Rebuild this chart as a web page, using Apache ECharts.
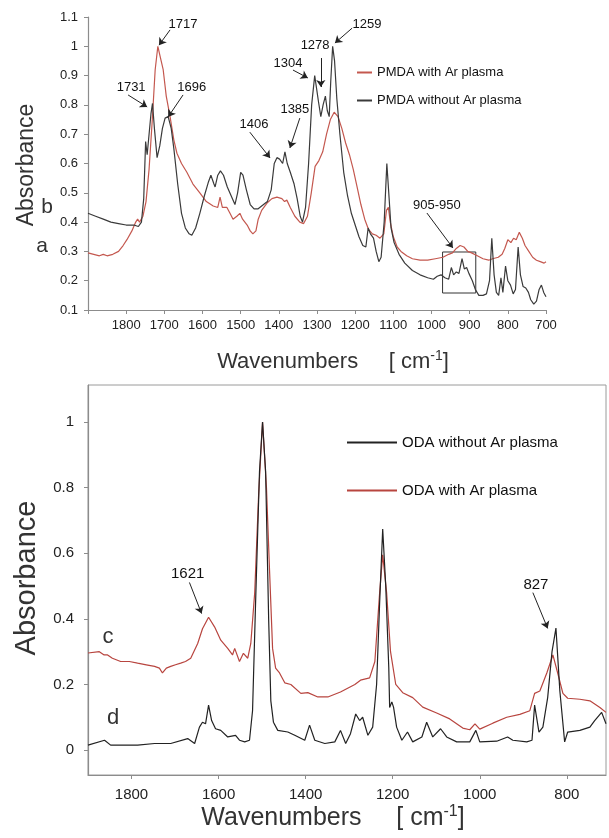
<!DOCTYPE html>
<html>
<head>
<meta charset="utf-8">
<script src="https://cdn.jsdelivr.net/npm/echarts@6/dist/echarts.min.js"></script>
<style>
  html, body { margin: 0; padding: 0; background: #fff; }
  #chart { width: 609px; height: 838px; }
</style>
</head>
<body>
<div id="chart"></div>
<script>
// FTIR spectra: PMDA (top) and ODA (bottom), with / without Ar plasma
const chart = echarts.init(document.getElementById('chart'));

// --- top panel: PMDA ---
const pmdaWithWn = [1900,1885,1870,1860,1850,1835,1820,1808,1798,1785,1775,1770,1765,1756,1748,1740,1732,1724,1717,1710,1703,1695,1685,1675,1667,1655,1641,1625,1607,1590,1572,1560,1554,1548,1536,1528,1520,1510,1502,1495,1483,1475,1468,1460,1454,1445,1431,1418,1405,1392,1385,1379,1370,1358,1345,1335,1325,1315,1305,1295,1285,1275,1265,1255,1245,1235,1225,1215,1205,1195,1185,1175,1165,1155,1145,1135,1125,1118,1113,1108,1100,1090,1080,1065,1050,1030,1010,990,970,955,945,935,925,915,905,895,880,865,850,840,825,815,808,800,792,785,778,770,762,755,745,735,725,715,705,700];
const pmdaWithAbs = [0.295,0.29,0.285,0.29,0.285,0.29,0.30,0.32,0.34,0.37,0.40,0.41,0.40,0.42,0.47,0.58,0.74,0.92,1.0,0.96,0.92,0.83,0.76,0.68,0.635,0.60,0.57,0.53,0.50,0.47,0.455,0.45,0.485,0.45,0.45,0.43,0.41,0.42,0.43,0.41,0.39,0.37,0.36,0.37,0.41,0.44,0.465,0.48,0.485,0.48,0.47,0.475,0.45,0.42,0.40,0.395,0.42,0.50,0.59,0.61,0.64,0.70,0.75,0.775,0.76,0.72,0.67,0.63,0.58,0.52,0.46,0.41,0.375,0.36,0.355,0.345,0.36,0.44,0.45,0.40,0.35,0.315,0.30,0.285,0.275,0.27,0.27,0.275,0.28,0.29,0.295,0.31,0.32,0.315,0.30,0.295,0.285,0.275,0.27,0.275,0.28,0.29,0.31,0.34,0.33,0.345,0.34,0.365,0.345,0.32,0.30,0.28,0.27,0.265,0.26,0.265];

const pmdaWithoutWn = [1900,1880,1860,1840,1820,1800,1780,1768,1760,1754,1749,1745,1740,1735,1731,1726,1719,1712,1705,1698,1690,1682,1675,1665,1655,1645,1635,1628,1618,1607,1595,1585,1578,1570,1567,1560,1553,1545,1535,1525,1515,1508,1500,1494,1485,1475,1465,1455,1440,1430,1420,1412,1405,1398,1390,1384,1378,1370,1360,1352,1344,1338,1330,1322,1314,1306,1302,1296,1290,1284,1278,1273,1268,1264,1259,1254,1248,1240,1230,1220,1210,1200,1190,1180,1172,1166,1160,1152,1145,1138,1132,1124,1117,1112,1106,1098,1085,1070,1050,1030,1010,995,985,975,965,955,948,942,935,928,920,914,908,902,893,885,876,865,856,848,842,836,830,824,818,813,806,800,793,786,780,773,767,760,753,746,740,732,725,718,712,706,700];
const pmdaWithoutAbs = [0.43,0.42,0.41,0.40,0.395,0.39,0.39,0.385,0.40,0.48,0.675,0.63,0.70,0.77,0.805,0.72,0.62,0.66,0.72,0.755,0.76,0.72,0.65,0.53,0.43,0.38,0.36,0.355,0.38,0.43,0.49,0.535,0.56,0.53,0.52,0.56,0.575,0.56,0.52,0.49,0.46,0.50,0.57,0.56,0.51,0.46,0.445,0.445,0.46,0.47,0.51,0.60,0.62,0.615,0.60,0.64,0.60,0.57,0.53,0.48,0.42,0.40,0.45,0.60,0.80,0.90,0.905,0.81,0.76,0.80,0.83,0.78,0.76,0.88,1.0,0.95,0.82,0.70,0.57,0.49,0.43,0.39,0.35,0.32,0.315,0.38,0.36,0.345,0.30,0.265,0.28,0.40,0.60,0.50,0.38,0.33,0.29,0.26,0.235,0.22,0.21,0.205,0.215,0.22,0.21,0.205,0.245,0.22,0.23,0.225,0.275,0.24,0.245,0.225,0.20,0.17,0.15,0.15,0.155,0.20,0.345,0.22,0.16,0.15,0.21,0.16,0.25,0.20,0.185,0.155,0.17,0.315,0.22,0.18,0.175,0.16,0.135,0.12,0.13,0.17,0.185,0.16,0.145];

// peak labels: [text, label wn, label abs, arrow from wn, from abs, to wn, to abs]
const pmdaPeaks = [
  ['1717', 1651, 1.073, 1685, 1.056, 1714, 1.004],
  ['1731', 1787, 0.861, 1795, 0.834, 1745, 0.793],
  ['1696', 1628, 0.861, 1651, 0.834, 1690, 0.759],
  ['1406', 1465, 0.735, 1476, 0.707, 1423, 0.619],
  ['1385', 1358, 0.783, 1345, 0.755, 1371, 0.653],
  ['1304', 1376, 0.943, 1363, 0.919, 1324, 0.892],
  ['1278', 1305, 1.004, 1290, 0.960, 1290, 0.861],
  ['1259', 1169, 1.073, 1208, 1.062, 1253, 1.011],
  ['905-950', 986, 0.458, 1012, 0.431, 944, 0.312]
];
const pmdaBox = [971, 0.298, 884, 0.158];

// --- bottom panel: ODA ---
const odaWithoutWn = [1900,1862,1848,1786,1747,1710,1671,1655,1644,1637,1630,1623,1616,1607,1595,1579,1561,1552,1540,1529,1522,1515,1506,1499,1492,1485,1480,1474,1464,1441,1425,1402,1391,1379,1356,1333,1320,1308,1297,1285,1276,1269,1257,1246,1237,1230,1223,1216,1209,1207,1202,1198,1191,1179,1166,1154,1133,1122,1108,1090,1076,1053,1023,1009,1000,961,936,924,892,880,874,864,855,844,834,825,816,805,798,770,747,736,720,710];
const odaWithoutAbs = [0.015,0.03,0.015,0.015,0.02,0.02,0.035,0.02,0.07,0.085,0.08,0.137,0.09,0.065,0.06,0.04,0.045,0.03,0.025,0.03,0.12,0.45,0.85,1.0,0.85,0.4,0.15,0.085,0.06,0.055,0.045,0.03,0.076,0.03,0.02,0.025,0.06,0.02,0.05,0.11,0.09,0.10,0.045,0.07,0.2,0.45,0.674,0.5,0.25,0.13,0.147,0.13,0.07,0.03,0.055,0.025,0.04,0.085,0.04,0.065,0.04,0.025,0.025,0.06,0.025,0.027,0.04,0.03,0.025,0.03,0.137,0.055,0.07,0.16,0.30,0.372,0.18,0.025,0.055,0.06,0.07,0.09,0.115,0.08];

const odaWithWn = [1900,1874,1863,1855,1844,1825,1805,1786,1766,1747,1736,1729,1720,1710,1699,1687,1676,1664,1648,1637,1623,1609,1595,1579,1568,1563,1552,1543,1533,1526,1517,1508,1499,1490,1483,1476,1469,1460,1448,1434,1411,1395,1372,1349,1320,1287,1274,1253,1241,1230,1223,1214,1205,1193,1177,1154,1131,1099,1069,1039,1023,1011,1000,970,938,908,885,874,862,846,832,821,809,798,770,747,724,710];
const odaWithAbs = [0.296,0.30,0.29,0.29,0.28,0.27,0.27,0.265,0.26,0.255,0.25,0.235,0.25,0.255,0.26,0.265,0.27,0.28,0.325,0.37,0.405,0.375,0.335,0.31,0.29,0.31,0.27,0.295,0.28,0.325,0.48,0.78,1.0,0.80,0.55,0.31,0.25,0.235,0.205,0.20,0.173,0.175,0.162,0.162,0.177,0.20,0.213,0.22,0.27,0.48,0.595,0.48,0.30,0.20,0.175,0.16,0.131,0.113,0.095,0.067,0.062,0.08,0.064,0.082,0.10,0.109,0.12,0.173,0.18,0.235,0.29,0.235,0.173,0.158,0.155,0.15,0.13,0.115];

const odaPeaks = [
  ['1621', 1671, 0.538, 1667, 0.511, 1639, 0.416],
  ['827', 871, 0.505, 878, 0.480, 844, 0.371]
];

const topXTicks = [1800,1700,1600,1500,1400,1300,1200,1100,1000,900,800,700];
const bottomXTicks = [1800,1600,1400,1200,1000,800];
const bottomYTicks = [0,0.2,0.4,0.6,0.8,1];

const RED = '#c4584f';
const DARK = '#3a3a3a';
const FONT = 'Liberation Sans, Arial, sans-serif';

const zip = (xs, ys) => xs.map((x, i) => [x, ys[i]]);
const arrowLines = peaks => peaks.map(p => [{ coord: [p[3], p[4]] }, { coord: [p[5], p[6]] }]);
const peakLabels = peaks => peaks.map(p => ({ name: p[0], coord: [p[1], p[2]] }));

function annotate(peaks, fontSize){
  return {
    markLine: {
      silent: true,
      animation: false,
      symbol: ['none', 'arrow'],
      symbolSize: 7,
      lineStyle: { color: '#222', width: 1, type: 'solid' },
      label: { show: false },
      emphasis: { disabled: true },
      data: arrowLines(peaks)
    },
    markPoint: {
      silent: true,
      animation: false,
      symbol: 'circle',
      symbolSize: 1,
      itemStyle: { color: 'rgba(0,0,0,0)' },
      label: {
        show: true, position: 'inside', formatter: '{b}',
        color: '#111', fontSize: fontSize, fontFamily: FONT
      },
      data: peakLabels(peaks)
    }
  };
}

function titleText(x, y, size){
  return {
    type: 'text', x: x, y: y,
    style: {
      text: '{w|Wavenumbers}{s|     [ cm}{sup|-1}{s|]}',
      align: 'center', verticalAlign: 'middle',
      fill: '#333', font: size + 'px ' + FONT,
      rich: {
        w: { fontSize: size, fontFamily: FONT, fill: '#333' },
        s: { fontSize: size, fontFamily: FONT, fill: '#333' },
        sup: { fontSize: Math.round(size * 0.62), fontFamily: FONT, fill: '#333', padding: [0, 0, size * 0.55, 0] }
      }
    }
  };
}

function plainText(str, x, y, size, rot){
  return {
    type: 'text', x: x, y: y, rotation: rot || 0,
    style: { text: str, align: 'center', verticalAlign: 'middle', fill: '#333', font: size + 'px ' + FONT }
  };
}

const axisLine = { show: true, onZero: false, lineStyle: { color: '#8c8c8c', width: 1.2 } };
const axisTick = { show: true, length: 4, lineStyle: { color: '#8c8c8c' } };

chart.setOption({
  animation: false,
  backgroundColor: '#fff',
  grid: [
    { left: 88, right: 63, top: 17, height: 293 },
    { left: 88, right: 3, top: 385, height: 390, show: true, borderColor: '#9a9a9a', borderWidth: 1 }
  ],
  xAxis: [
    {
      gridIndex: 0, type: 'value', inverse: true, min: 700, max: 1900, interval: 100,
      axisLine: axisLine, axisTick: axisTick, splitLine: { show: false },
      axisLabel: {
        color: '#222', fontSize: 13, fontFamily: FONT, margin: 9,
        formatter: v => topXTicks.includes(v) ? String(v) : ''
      }
    },
    {
      gridIndex: 1, type: 'value', inverse: true, min: 710, max: 1900,
      axisLine: axisLine,
      axisTick: Object.assign({}, axisTick, { customValues: bottomXTicks }),
      splitLine: { show: false },
      axisLabel: { color: '#222', fontSize: 15, fontFamily: FONT, margin: 12, customValues: bottomXTicks, formatter: v => String(v) }
    }
  ],
  yAxis: [
    {
      gridIndex: 0, type: 'value', min: 0.1, max: 1.1, interval: 0.1,
      axisLine: axisLine, axisTick: axisTick, splitLine: { show: false },
      axisLabel: { color: '#222', fontSize: 13, fontFamily: FONT, margin: 10, formatter: v => String(+v.toFixed(1)) }
    },
    {
      gridIndex: 1, type: 'value', min: -0.076, max: 1.113,
      axisLine: axisLine,
      axisTick: Object.assign({}, axisTick, { customValues: bottomYTicks }),
      splitLine: { show: false },
      axisLabel: { color: '#222', fontSize: 15, fontFamily: FONT, margin: 14, customValues: bottomYTicks, formatter: v => String(+v.toFixed(1)) }
    }
  ],
  legend: [
    {
      data: ['PMDA with Ar plasma', 'PMDA without Ar plasma'],
      orient: 'vertical', left: 352, top: 61, itemWidth: 15, itemHeight: 2, itemGap: 15,
      icon: 'rect', textStyle: { color: '#111', fontSize: 13, fontFamily: FONT }
    },
    {
      data: ['ODA without Ar plasma', 'ODA with Ar plasma'],
      orient: 'vertical', left: 342, top: 430, itemWidth: 50, itemHeight: 2, itemGap: 33,
      icon: 'rect', textStyle: { color: '#111', fontSize: 15, fontFamily: FONT }
    }
  ],
  graphic: [
    plainText('Absorbance', 27, 165, 23, Math.PI / 2),
    plainText('b', 47, 207, 21),
    plainText('a', 42, 246, 21),
    titleText(333, 362, 22),
    plainText('Absorbance', 27, 578, 29, Math.PI / 2),
    plainText('c', 108, 637, 22),
    plainText('d', 113, 718, 22),
    titleText(333, 818, 25)
  ],
  series: [
    {
      name: 'PMDA with Ar plasma', type: 'line', xAxisIndex: 0, yAxisIndex: 0,
      data: zip(pmdaWithWn, pmdaWithAbs), symbol: 'none', color: RED,
      lineStyle: { color: RED, width: 1.2 }
    },
    Object.assign({
      name: 'PMDA without Ar plasma', type: 'line', xAxisIndex: 0, yAxisIndex: 0,
      data: zip(pmdaWithoutWn, pmdaWithoutAbs), symbol: 'none', color: DARK,
      lineStyle: { color: DARK, width: 1.2 },
      markArea: {
        silent: true,
        itemStyle: { color: 'rgba(0,0,0,0)', borderColor: '#333', borderWidth: 1 },
        data: [[{ coord: [pmdaBox[0], pmdaBox[1]] }, { coord: [pmdaBox[2], pmdaBox[3]] }]]
      }
    }, annotate(pmdaPeaks, 13)),
    {
      name: 'ODA with Ar plasma', type: 'line', xAxisIndex: 1, yAxisIndex: 1,
      data: zip(odaWithWn, odaWithAbs), symbol: 'none', color: '#b8453f',
      lineStyle: { color: '#b8453f', width: 1.2 }
    },
    Object.assign({
      name: 'ODA without Ar plasma', type: 'line', xAxisIndex: 1, yAxisIndex: 1,
      data: zip(odaWithoutWn, odaWithoutAbs), symbol: 'none', color: '#222',
      lineStyle: { color: '#222', width: 1.2 }
    }, annotate(odaPeaks, 15))
  ]
});
</script>
</body>
</html>
